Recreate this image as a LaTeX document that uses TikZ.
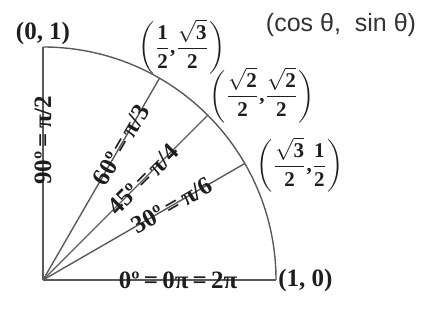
\documentclass[tikz,border=0pt]{standalone}
\usepackage{amsmath}
\usepackage{fontspec}
\setmainfont{Liberation Serif}
\setsansfont{Liberation Sans}
\usetikzlibrary{positioning,calc}
\definecolor{rayLine}{HTML}{5A5A5A}
\definecolor{labText}{HTML}{1E1E1E}
\tikzset{
  ray/.style={draw=rayLine, line width=0.7pt},
  anglab/.style={font=\fontsize{12.5}{14}\selectfont\bfseries, text=labText,
    sloped, inner sep=0pt},
  ptlab/.style={font=\fontsize{12.5}{14}\selectfont\bfseries, text=labText,
    inner sep=1pt},
  fraclab/.style={font=\fontsize{10.5}{12}\selectfont\bfseries, text=labText,
    inner sep=0pt},
  capt/.style={font=\sffamily\fontsize{12.5}{14}\selectfont, text=black!80,
    inner sep=0pt}
}

\begin{document}
\begin{tikzpicture}[x=0.5pt,y=0.5pt]
  \useasboundingbox (-43,-46) rectangle (380,280);
  % origin and points on the unit arc
  \coordinate (O) at (0,0);
  \foreach \a in {0,30,45,60,90}
    \coordinate (P\a) at (\a:233);
  % quarter circle
  \draw[ray] (P0) arc[start angle=0, end angle=90, radius=233];
  % rays with angle labels
  \draw[ray] (O) -- (P0)  node[anglab, pos=0.58] (a0)  {0º\,=\,0π\,=\,2π};
  \draw[ray] (O) -- (P30) node[anglab, pos=0.64] (a30) {30º\,=\,π/6};
  \draw[ray] (O) -- (P45) node[anglab, pos=0.61] (a45) {45º\,=\,π/4};
  \draw[ray] (O) -- (P60) node[anglab, pos=0.67] (a60) {60º\,=\,π/3};
  \draw[ray] (O) -- (P90) node[anglab, pos=0.60] (a90) {90º\,=\,π/2};
  % end points
  \node[ptlab, above=0pt of P90] (p01) {(0, 1)};
  \node[ptlab, right=0pt of P0]  (p10) {(1, 0)};
  % coordinates on the arc
  \node[fraclab] (c60) at (139,233)
    {$\left(\dfrac{\textbf{1}}{\textbf{2}}\textbf{,}\dfrac{\sqrt{\textbf{3}}}{\textbf{2}}\right)$};
  \node[fraclab] (c45) at (219,185)
    {$\left(\dfrac{\sqrt{\textbf{2}}}{\textbf{2}}\textbf{,}\dfrac{\sqrt{\textbf{2}}}{\textbf{2}}\right)$};
  \node[fraclab] (c30) at (257,115)
    {$\left(\dfrac{\sqrt{\textbf{3}}}{\textbf{2}}\textbf{,}\dfrac{\textbf{1}}{\textbf{2}}\right)$};
  % caption
  \node[capt] (cs) at (298,255) {(cos θ,\; sin θ)};
\end{tikzpicture}
\end{document}
